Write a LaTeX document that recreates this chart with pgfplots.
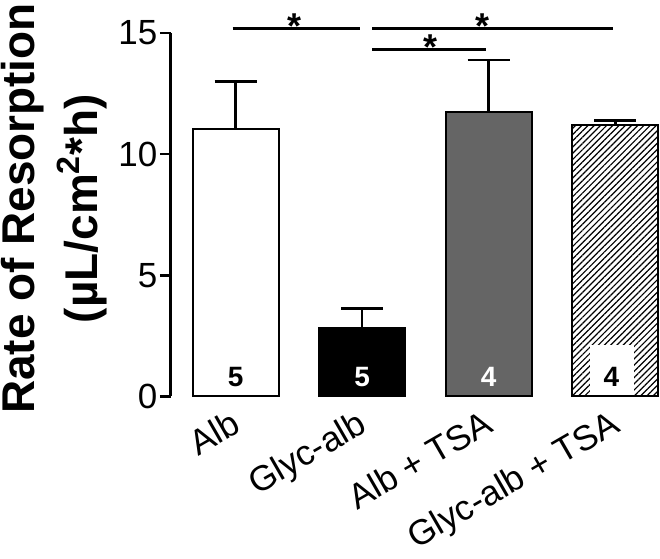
\documentclass[border=0pt]{standalone}
\usepackage{fontspec}
\setmainfont{Liberation Sans}
\usepackage{pgfplots}
\pgfplotsset{compat=1.18}
\usetikzlibrary{patterns.meta}
\definecolor{tsagray}{HTML}{656565}

\begin{document}
\begin{tikzpicture}
\begin{axis}[
  scale only axis, width=245pt, height=182pt,
  xmin=-0.513, xmax=3.354, ymin=0, ymax=15,
  clip=false,
  axis lines=left,
  axis line style={-, line width=1.3pt},
  x axis line style={draw=none},
  ytick={0,5,10,15},
  ytick style={line width=1.3pt, black},
  tick align=outside, major tick length=5.5pt,
  xtick={0,1,2,3},
  xticklabels={Alb, Glyc-alb, Alb + TSA, Glyc-alb + TSA},
  xtick style={draw=none},
  xticklabel style={rotate=30, anchor=north east, font=\fontsize{17.6}{20}\selectfont, xshift=0.5pt, yshift=4.5pt},
  yticklabel style={font=\fontsize{17.5}{20}\selectfont, inner sep=1pt},
  /pgf/number format/assume math mode=true,
  ylabel={Rate of Resorption\\(µL/cm\textsuperscript{2}*h)},
  ylabel style={font=\bfseries\fontsize{23}{31.5}\selectfont, align=center, inner sep=0pt,
    at={(axis description cs:-0.1286,0.517)}, anchor=south},
  ybar, bar width=0.68, bar shift=0pt,
  error bars/y dir=plus, error bars/y explicit,
  error bars/error bar style={line width=1.3pt, black},
  error bars/error mark options={rotate=90, mark size=10.5pt, line width=1.3pt, black},
]
\addplot[draw=black, line width=1pt, fill=white] coordinates {(0,11.04) +- (0,1.96)};
\addplot[draw=black, line width=1pt, fill=black] coordinates {(1,2.84) +- (0,0.79)};
\addplot[draw=black, line width=1pt, fill=tsagray] coordinates {(2,11.72) +- (0,2.16)};
\addplot[draw=black, line width=1pt, pattern={Lines[angle=45,distance=2.2pt,line width=0.6pt]}] coordinates {(3,11.2) +- (0,0.18)};

% n per group
\node[fill=white, minimum width=22pt, minimum height=25pt, inner sep=0pt, anchor=south] at (axis cs:2.976,0.06) {};
\node[font=\bfseries\fontsize{14}{14}\selectfont, anchor=base] at (axis cs:0,0.41) {5};
\node[font=\bfseries\fontsize{14}{14}\selectfont, anchor=base, white] at (axis cs:1,0.41) {5};
\node[font=\bfseries\fontsize{14}{14}\selectfont, anchor=base, white] at (axis cs:2,0.41) {4};
\node[font=\bfseries\fontsize{14}{14}\selectfont, anchor=base] at (axis cs:2.97,0.41) {4};

% significance
\draw[line width=1.5pt] (axis cs:-0.024,15.2) -- (axis cs:0.979,15.2);
\draw[line width=1.5pt] (axis cs:1.081,15.2) -- (axis cs:2.983,15.2);
\draw[line width=1.5pt] (axis cs:1.081,14.3) -- (axis cs:1.981,14.3);
\node[font=\bfseries\fontsize{18}{18}\selectfont, anchor=base, yshift=-5pt] at (axis cs:0.466,15.2) {*};
\node[font=\bfseries\fontsize{18}{18}\selectfont, anchor=base, yshift=-5pt] at (axis cs:1.95,15.2) {*};
\node[font=\bfseries\fontsize{18}{18}\selectfont, anchor=base, yshift=-5pt] at (axis cs:1.54,14.3) {*};
\end{axis}
\pgfresetboundingbox
\path[use as bounding box] ([xshift=-85.5pt, yshift=-81pt]current axis.south west) rectangle ([yshift=16.5pt]current axis.north east);
\end{tikzpicture}
\end{document}
